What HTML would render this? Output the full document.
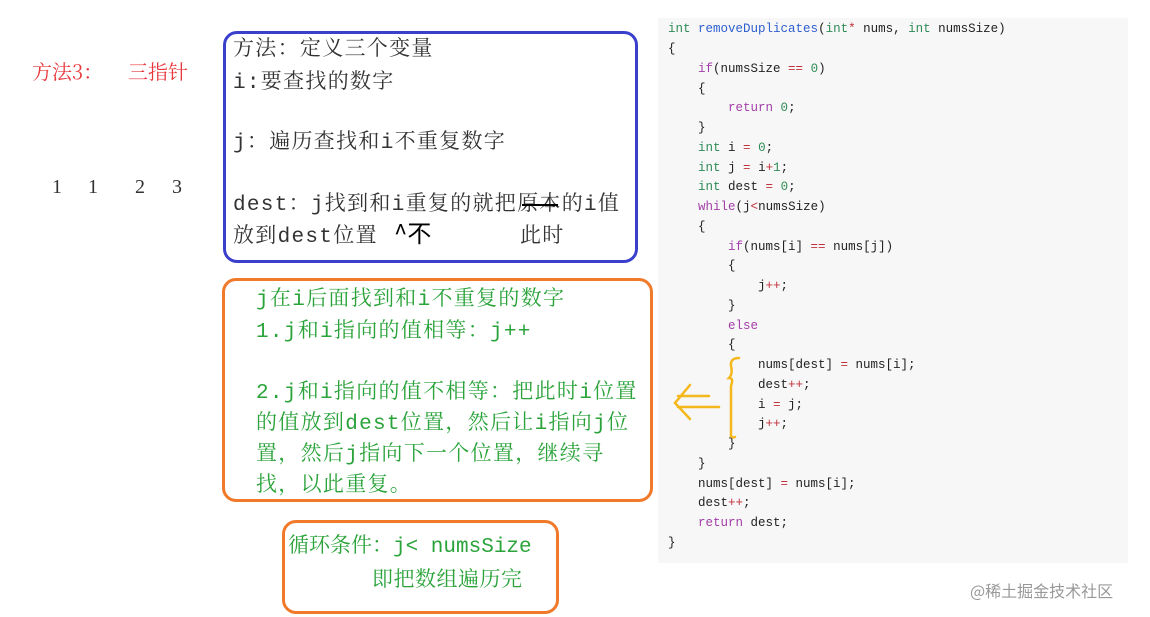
<!DOCTYPE html>
<html><head><meta charset="utf-8"><style>
body{margin:0;width:1150px;height:617px;background:#fff;position:relative;overflow:hidden;font-family:"Liberation Serif","Noto Serif CJK SC",serif}
.a{position:absolute;white-space:pre}
.box{position:absolute;border-radius:14px}
.code{position:absolute;left:658px;top:18px;width:470px;height:545px;background:#f7f7f7}
.cl{position:absolute;left:668px;font:12.5px "Liberation Mono","DejaVu Sans Mono",monospace;color:#222;white-space:pre}
.k{color:#2e8b57}.p{color:#a23fa8}.f{color:#2d5fd0}.o{color:#c0303a}
.b,.g{font-family:"Liberation Mono","Noto Serif CJK SC",monospace;font-size:21px;letter-spacing:1.3px;line-height:21px}
.b{color:#333}
.g{color:#2aa33a}
</style></head><body>
<div class="a" style="left:32px;top:56px;font-size:20px;color:#e8383d;font-family:'Noto Serif CJK SC',serif">方法3：</div>
<div class="a" style="left:128px;top:56px;font-size:20px;color:#e8383d;font-family:'Noto Serif CJK SC',serif">三指针</div>
<div class="a" style="left:52px;top:176px;font-size:20px;color:#333">1</div>
<div class="a" style="left:88px;top:176px;font-size:20px;color:#333">1</div>
<div class="a" style="left:135px;top:176px;font-size:20px;color:#333">2</div>
<div class="a" style="left:172px;top:176px;font-size:20px;color:#333">3</div>

<div class="box" style="left:223px;top:31px;width:409px;height:226px;border:3px solid #3b40cc"></div>
<div class="a b" style="left:233px;top:40px">方法：定义三个变量</div>
<div class="a b" style="left:233px;top:73px">i:要查找的数字</div>
<div class="a b" style="left:233px;top:133px">j：遍历查找和i不重复数字</div>
<div class="a b" style="left:233px;top:195px">dest：j找到和i重复的就把原本的i值</div>
<div class="a b" style="left:233px;top:227px">放到dest位置</div>
<div class="a b" style="left:520px;top:227px">此时</div>
<div class="a" style="left:394px;top:214px;font-size:24px;color:#000;font-family:'Noto Sans CJK SC',sans-serif">^不</div>
<div class="a" style="left:522px;top:204px;width:36px;border-top:2px solid #000"></div>

<div class="box" style="left:222px;top:278px;width:425px;height:218px;border:3px solid #f07a2a"></div>
<div class="a g" style="left:256px;top:290px">j在i后面找到和i不重复的数字</div>
<div class="a g" style="left:256px;top:322px">1.j和i指向的值相等：j++</div>
<div class="a g" style="left:256px;top:383px">2.j和i指向的值不相等：把此时i位置</div>
<div class="a g" style="left:256px;top:414px">的值放到dest位置，然后让i指向j位</div>
<div class="a g" style="left:256px;top:445px">置，然后j指向下一个位置，继续寻</div>
<div class="a g" style="left:256px;top:476px">找，以此重复。</div>

<div class="box" style="left:282px;top:520px;width:271px;height:88px;border:3px solid #f07a2a"></div>
<div class="a g" style="left:288px;top:537px;letter-spacing:0">循环条件：j&lt; numsSize</div>
<div class="a g" style="left:372px;top:571px;letter-spacing:0.5px">即把数组遍历完</div>

<div class="code"></div>
<div class="cl" style="top:22px"><span class="k">int</span> <span class="f">removeDuplicates</span>(<span class="k">int</span><span class="o">*</span> nums, <span class="k">int</span> numsSize)</div>
<div class="cl" style="top:42px">{</div>
<div class="cl" style="top:62px">    <span class="p">if</span>(numsSize <span class="o">==</span> <span class="k">0</span>)</div>
<div class="cl" style="top:82px">    {</div>
<div class="cl" style="top:101px">        <span class="p">return</span> <span class="k">0</span>;</div>
<div class="cl" style="top:121px">    }</div>
<div class="cl" style="top:141px">    <span class="k">int</span> i <span class="o">=</span> <span class="k">0</span>;</div>
<div class="cl" style="top:161px">    <span class="k">int</span> j <span class="o">=</span> i<span class="o">+</span><span class="k">1</span>;</div>
<div class="cl" style="top:180px">    <span class="k">int</span> dest <span class="o">=</span> <span class="k">0</span>;</div>
<div class="cl" style="top:200px">    <span class="p">while</span>(j<span class="o">&lt;</span>numsSize)</div>
<div class="cl" style="top:220px">    {</div>
<div class="cl" style="top:240px">        <span class="p">if</span>(nums[i] <span class="o">==</span> nums[j])</div>
<div class="cl" style="top:259px">        {</div>
<div class="cl" style="top:279px">            j<span class="o">++</span>;</div>
<div class="cl" style="top:299px">        }</div>
<div class="cl" style="top:319px">        <span class="p">else</span></div>
<div class="cl" style="top:338px">        {</div>
<div class="cl" style="top:358px">            nums[dest] <span class="o">=</span> nums[i];</div>
<div class="cl" style="top:378px">            dest<span class="o">++</span>;</div>
<div class="cl" style="top:398px">            i <span class="o">=</span> j;</div>
<div class="cl" style="top:417px">            j<span class="o">++</span>;</div>
<div class="cl" style="top:437px">        }</div>
<div class="cl" style="top:457px">    }</div>
<div class="cl" style="top:477px">    nums[dest] <span class="o">=</span> nums[i];</div>
<div class="cl" style="top:496px">    dest<span class="o">++</span>;</div>
<div class="cl" style="top:516px">    <span class="p">return</span> dest;</div>
<div class="cl" style="top:536px">}</div>

<svg style="position:absolute;left:0;top:0" width="1150" height="617">
<g fill="none" stroke="#f5b81c" stroke-width="2.5" stroke-linecap="round">
<path d="M739 358 Q730 358 731 366 Q733 374 729 378 Q734 378 731 386 L731 436 Q732 438 735 437"/>
<path d="M690 385 L675 403 L690 419"/>
<path d="M678 396 L709 396 M678 407 L719 407"/>
</g>
</svg>
<div class="a" style="left:970px;top:578px;font-size:16px;color:#999;font-family:'Noto Sans CJK SC',sans-serif">@稀土掘金技术社区</div>
</body></html>
